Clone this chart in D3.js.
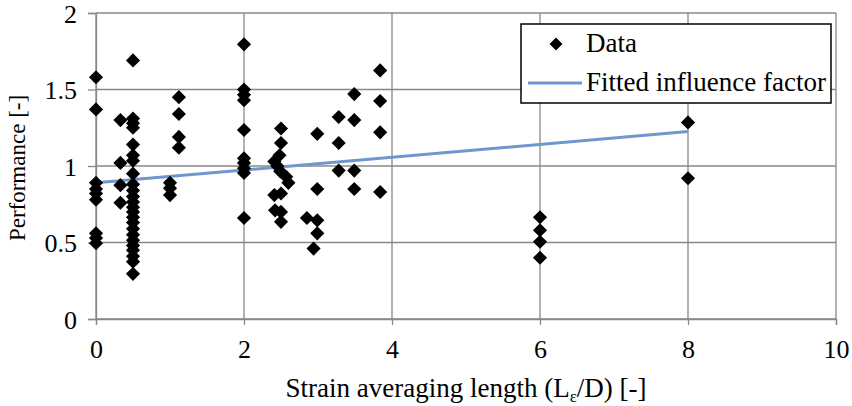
<!DOCTYPE html>
<html>
<head>
<meta charset="utf-8">
<script src="https://cdn.jsdelivr.net/npm/d3@7"></script>
<style>
  body { margin: 0; background: #fff; }
</style>
</head>
<body>
<div id="chart"></div>
<script>
// measured values (strain averaging length, performance)
var dataX = [0, 0, 0, 0, 0, 0, 0, 0, 0,
  0.33, 0.33, 0.33, 0.33,
  0.5, 0.5, 0.5, 0.5, 0.5, 0.5, 0.5, 0.5, 0.5, 0.5, 0.5, 0.5, 0.5, 0.5, 0.5, 0.5, 0.5, 0.5, 0.5, 0.5, 0.5, 0.5, 0.5, 0.5,
  1, 1, 1,
  1.12, 1.12, 1.12, 1.12,
  2, 2, 2, 2, 2, 2, 2, 2, 2, 2,
  2.5, 2.5, 2.48, 2.41, 2.45, 2.49, 2.57, 2.6, 2.41, 2.5, 2.42, 2.5, 2.5,
  2.85, 2.94, 2.99, 2.99, 2.99, 2.99,
  3.28, 3.28, 3.28,
  3.49, 3.49, 3.49, 3.49,
  3.84, 3.84, 3.84, 3.84,
  6, 6, 6, 6,
  8, 8];
var dataY = [1.58, 1.37, 0.89, 0.85, 0.82, 0.78, 0.56, 0.53, 0.495,
  1.30, 1.02, 0.875, 0.76,
  1.69, 1.31, 1.28, 1.25, 1.14, 1.07, 1.035, 0.95, 0.88, 0.84, 0.80, 0.765, 0.73, 0.70, 0.665, 0.63, 0.59, 0.55, 0.515, 0.48, 0.45, 0.41, 0.375, 0.295,
  0.89, 0.855, 0.81,
  1.45, 1.34, 1.19, 1.12,
  1.795, 1.50, 1.465, 1.43, 1.235, 1.05, 1.02, 0.985, 0.955, 0.66,
  1.245, 1.15, 1.07, 1.03, 1.0, 0.965, 0.93, 0.89, 0.81, 0.82, 0.71, 0.70, 0.635,
  0.66, 0.46, 1.21, 0.85, 0.645, 0.56,
  1.32, 1.15, 0.97,
  1.47, 1.30, 0.97, 0.85,
  1.625, 1.425, 1.22, 0.83,
  0.665, 0.58, 0.505, 0.40,
  1.285, 0.92];

// fitted influence factor line
var fitX = [0, 8];
var fitY = [0.89, 1.225];

var xTicks = [0, 2, 4, 6, 8, 10];
var yTicks = [0, 0.5, 1, 1.5, 2];
var seriesNames = ["Data", "Fitted influence factor"];

var serif = "'Liberation Serif'";

var margin = {top: 13, right: 16, bottom: 87, left: 96},
    width = 852 - margin.left - margin.right,
    height = 406 - margin.top - margin.bottom;

var svg = d3.select("#chart")
  .append("svg")
    .attr("width", 852)
    .attr("height", 406)
  .append("g")
    .attr("transform", "translate(" + margin.left + "," + margin.top + ")");

var x = d3.scaleLinear().domain([0, 10]).range([0, width]);
var y = d3.scaleLinear().domain([0, 2]).range([height, 0]);

var gridColor = "#888888";

// gridlines
svg.append("g")
  .selectAll("line")
  .data(xTicks)
  .enter().append("line")
    .attr("x1", function(d) { return x(d); })
    .attr("x2", function(d) { return x(d); })
    .attr("y1", 0)
    .attr("y2", height)
    .attr("stroke", gridColor)
    .attr("stroke-width", 1.3);

svg.append("g")
  .selectAll("line")
  .data(yTicks)
  .enter().append("line")
    .attr("x1", 0)
    .attr("x2", width)
    .attr("y1", function(d) { return y(d); })
    .attr("y2", function(d) { return y(d); })
    .attr("stroke", gridColor)
    .attr("stroke-width", 1.3);

// axes
var xAxis = svg.append("g")
  .attr("transform", "translate(0," + height + ")")
  .call(d3.axisBottom(x).tickValues(xTicks).tickSize(6).tickFormat(d3.format("d")));

var yAxis = svg.append("g")
  .call(d3.axisLeft(y).tickValues(yTicks).tickSize(8).tickFormat(function(d) { return d; }));

[xAxis, yAxis].forEach(function(a) {
  a.attr("font-family", null).attr("font-size", null);
  a.select(".domain").attr("stroke", gridColor).attr("stroke-width", 1.3);
  a.selectAll(".tick line").attr("stroke", gridColor).attr("stroke-width", 1.3);
  a.selectAll("text")
    .style("font-family", serif)
    .attr("font-size", 26)
    .attr("fill", "#000");
});
xAxis.selectAll("text").attr("y", 39).attr("dy", 0);
yAxis.selectAll("text").attr("x", -19).attr("dy", "0.35em");

// fitted line
var line = d3.line()
  .x(function(d) { return x(d[0]); })
  .y(function(d) { return y(d[1]); });

svg.append("path")
  .datum(d3.zip(fitX, fitY))
  .attr("d", line)
  .attr("fill", "none")
  .attr("stroke", "#6e98cc")
  .attr("stroke-width", 3);

// data points
var diamond = d3.symbol().type(d3.symbolSquare).size(100);

svg.append("g")
  .selectAll("path")
  .data(d3.zip(dataX, dataY))
  .enter().append("path")
    .attr("d", diamond)
    .attr("transform", function(d) { return "translate(" + x(d[0]) + "," + y(d[1]) + ") rotate(45)"; })
    .attr("fill", "#000");

// axis titles
svg.append("text")
  .attr("transform", "rotate(-90)")
  .attr("x", -155)
  .attr("y", -71)
  .attr("text-anchor", "middle")
  .style("font-family", serif)
  .attr("font-size", 23)
  .text("Performance [-]");

var xt = svg.append("text")
  .attr("x", width / 2)
  .attr("y", height + 78)
  .attr("text-anchor", "middle")
  .style("font-family", serif)
  .attr("font-size", 27);
xt.append("tspan").text("Strain averaging length (L");
xt.append("tspan").attr("dy", 5).attr("font-size", 17).text("\u03b5");
xt.append("tspan").attr("dy", -5).text("/D) [-]");

// legend
var legend = svg.append("g")
  .attr("transform", "translate(" + (521 - margin.left) + "," + (24 - margin.top) + ")");

legend.append("rect")
  .attr("width", 310)
  .attr("height", 79)
  .attr("fill", "#fff")
  .attr("stroke", "#000")
  .attr("stroke-width", 1.5);

legend.append("path")
  .attr("d", d3.symbol().type(d3.symbolSquare).size(85))
  .attr("transform", "translate(35,20) rotate(45)")
  .attr("fill", "#000");

legend.append("line")
  .attr("x1", 7).attr("x2", 61)
  .attr("y1", 59).attr("y2", 59)
  .attr("stroke", "#6e98cc")
  .attr("stroke-width", 3);

legend.selectAll("text.lg")
  .data(seriesNames)
  .enter().append("text")
    .attr("class", "lg")
    .attr("x", 65)
    .attr("y", function(d, i) { return 28 + i * 39; })
    .style("font-family", serif)
    .attr("font-size", 27)
    .text(function(d) { return d; });
</script>
</body>
</html>
